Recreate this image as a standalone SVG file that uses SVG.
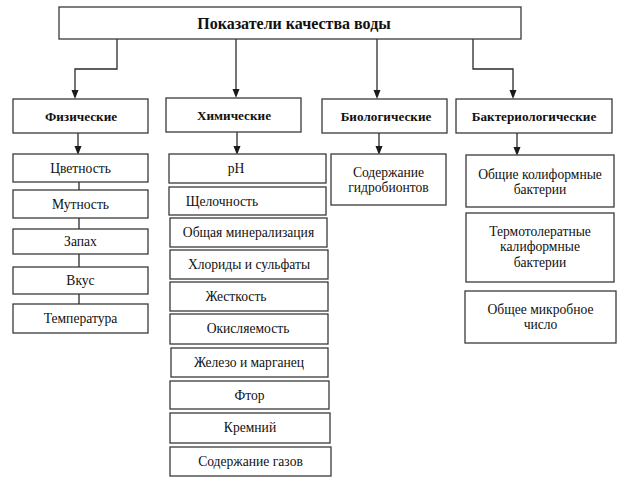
<svg xmlns="http://www.w3.org/2000/svg" width="625" height="489" viewBox="0 0 625 489" font-family="'Liberation Serif', 'Times New Roman', serif">
<style>
rect{fill:#fff;stroke:#3a3a3a;stroke-width:1.3}
text{font-family:'Liberation Serif','Times New Roman',serif;font-size:13.6px;fill:#111;text-anchor:middle}
.t{font-size:16px;font-weight:bold}
.c{font-size:13.2px;font-weight:bold}
.ln{fill:none;stroke:#2a2a2a;stroke-width:1.3}
.ah{fill:#1a1a1a;stroke:none}
</style>
<defs>
<polygon id="ahd" points="-3.5,-9 3.5,-9 0,0"/>
</defs>
<rect width="625" height="489" style="fill:#fff;stroke:none"/>
<g id="connectors">
<path class="ln" d="M117,39 V69 H75 V92"/>
<path class="ln" d="M236,39 V92"/>
<path class="ln" d="M377,39 V92"/>
<path class="ln" d="M473,39 V69 H513 V92"/>
<path class="ln" d="M78,133 V148"/>
<path class="ln" d="M237,132 V148"/>
<path class="ln" d="M379,133 V148"/>
<path class="ln" d="M517,133 V149"/>
<path class="ln" d="M79,182 V190 M79,218 V229 M79,254 V267 M79,294 V304"/>
<use href="#ahd" class="ah" x="75" y="99"/>
<use href="#ahd" class="ah" x="236" y="98"/>
<use href="#ahd" class="ah" x="377" y="99"/>
<use href="#ahd" class="ah" x="513" y="99"/>
<use href="#ahd" class="ah" x="78" y="155"/>
<use href="#ahd" class="ah" x="237" y="155"/>
<use href="#ahd" class="ah" x="379" y="155"/>
<use href="#ahd" class="ah" x="517" y="156"/>
</g>
<g id="title"><rect x="59" y="7" width="462" height="32"/><text class="t" x="294" y="29">Показатели качества воды</text></g>
<g id="physical"><rect x="13" y="99" width="135" height="34"/><text class="c" x="81" y="120.5">Физические</text></g>
<g id="chemical"><rect x="166" y="98" width="135" height="34"/><text class="c" x="234" y="119.5">Химические</text></g>
<g id="biological"><rect x="322" y="99" width="125" height="34"/><text class="c" x="386" y="120.5">Биологические</text></g>
<g id="bacteriological"><rect x="456" y="99" width="156" height="34"/><text class="c" x="534" y="120.5">Бактериологические</text></g>
<g id="p1"><rect x="13" y="154" width="135" height="28"/><text x="80.5" y="173">Цветность</text></g>
<g id="p2"><rect x="13" y="190" width="135" height="28"/><text x="80.5" y="209">Мутность</text></g>
<g id="p3"><rect x="13" y="229" width="135" height="25"/><text x="80.5" y="246">Запах</text></g>
<g id="p4"><rect x="13" y="267" width="135" height="27"/><text x="80.5" y="285">Вкус</text></g>
<g id="p5"><rect x="13" y="304" width="135" height="29"/><text x="80.5" y="323">Температура</text></g>
<g id="c1"><rect x="169" y="154" width="157" height="29"/><text x="236" y="173">pH</text></g>
<g id="c2"><rect x="169" y="187" width="157" height="28"/><text x="222" y="206">Щелочность</text></g>
<g id="c3"><rect x="170" y="218" width="157" height="29"/><text x="248.5" y="237">Общая минерализация</text></g>
<g id="c4"><rect x="170" y="250" width="158" height="29"/><text x="249" y="269">Хлориды и сульфаты</text></g>
<g id="c5"><rect x="170" y="282" width="158" height="29"/><text x="236" y="301">Жесткость</text></g>
<g id="c6"><rect x="170" y="314" width="158" height="30"/><text x="248" y="333">Окисляемость</text></g>
<g id="c7"><rect x="171" y="348" width="157" height="29"/><text x="249" y="367">Железо и марганец</text></g>
<g id="c8"><rect x="170" y="381" width="159" height="28"/><text x="249.5" y="400">Фтор</text></g>
<g id="c9"><rect x="170" y="413" width="160" height="30"/><text x="250" y="432">Кремний</text></g>
<g id="c10"><rect x="170" y="447" width="161" height="29"/><text x="250.5" y="466">Содержание газов</text></g>
<g id="b1"><rect x="331" y="154" width="115" height="51"/><text x="388.5" y="177">Содержание</text><text x="388.5" y="192">гидробионтов</text></g>
<g id="k1"><rect x="466" y="155" width="148" height="52"/><text x="540" y="179">Общие колиформные</text><text x="540" y="194">бактерии</text></g>
<g id="k2"><rect x="466" y="213" width="148" height="69"/><text x="540" y="236">Термотолератные</text><text x="540" y="251">калиформные</text><text x="540" y="267">бактерии</text></g>
<g id="k3"><rect x="465" y="291" width="151" height="52"/><text x="540.5" y="314">Общее микробное</text><text x="540.5" y="329">число</text></g>
</svg>
